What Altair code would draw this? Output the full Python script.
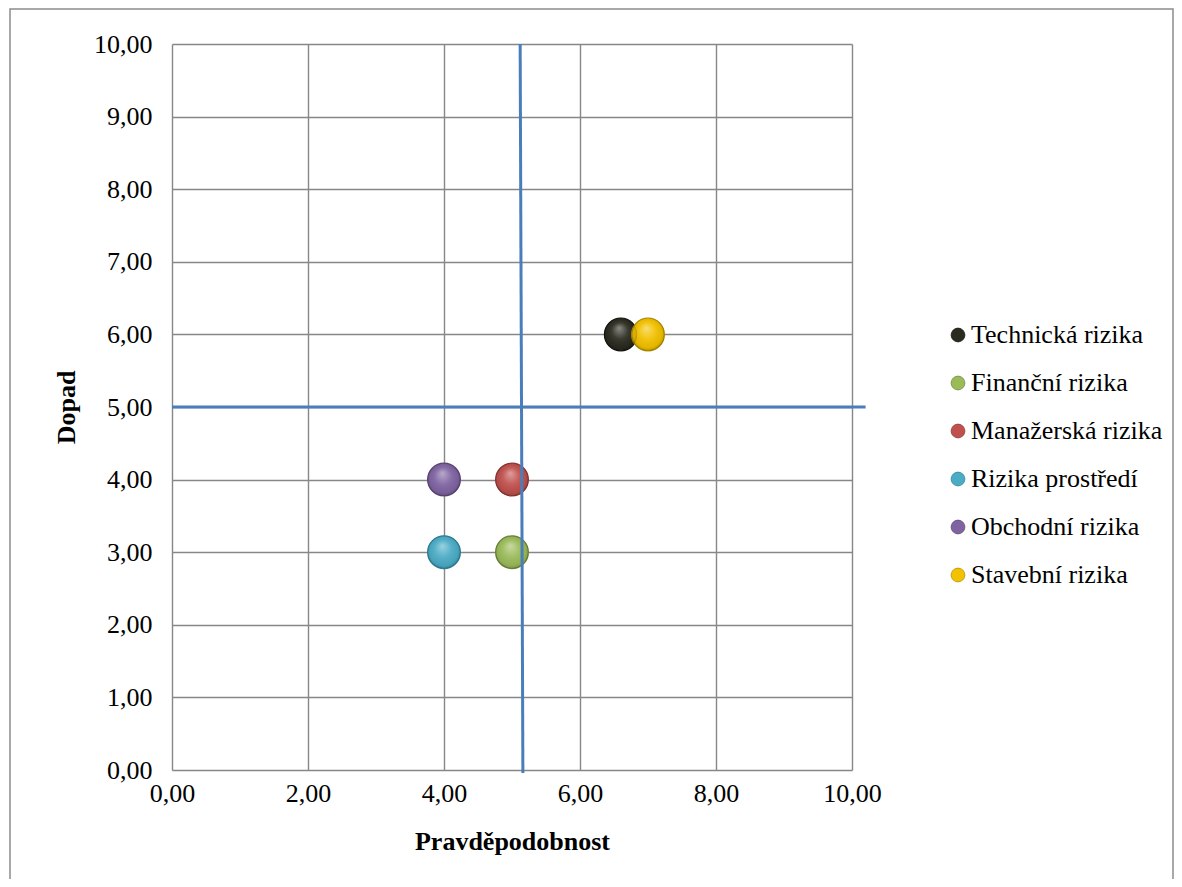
import altair as alt
import pandas as pd

# Data
series = ["Technická rizika", "Finanční rizika", "Manažerská rizika",
          "Rizika prostředí", "Obchodní rizika", "Stavební rizika"]
pravdepodobnost = [6.6, 5.0, 5.0, 4.0, 4.0, 7.0]
dopad = [6.0, 3.0, 4.0, 3.0, 4.0, 6.0]
colors = ["#2b2a20", "#9bbb59", "#c0504d", "#4bacc6", "#8064a2", "#f2c100"]
strokes = ["#15140e", "#71893f", "#8c3836", "#31849b", "#5c4776", "#b58f00"]

x_ticks = [0, 2, 4, 6, 8, 10]
y_ticks = [0, 1, 2, 3, 4, 5, 6, 7, 8, 9, 10]

# reference lines (quadrant separators)
hline_x = [0.0, 10.2]
hline_y = [5.0, 5.0]
vline_x = [5.12, 5.16]
vline_y = [10.0, -0.04]

FONT = "Liberation Serif"
label_expr = "replace(format(datum.value, '.2f'), '.', ',')"

df = pd.DataFrame({"name": series, "x": pravdepodobnost, "y": dopad, "order": list(range(6))})
hdf = pd.DataFrame({"x": hline_x, "y": hline_y, "o": [0, 1]})
vdf = pd.DataFrame({"x": vline_x, "y": vline_y, "o": [0, 1]})

xscale = alt.Scale(domain=[0, 10], nice=False, zero=False)
yscale = alt.Scale(domain=[0, 10], nice=False, zero=False)

frame = alt.Chart(pd.DataFrame({"a": [0]})).mark_rect(
    fill=None, stroke="#8c8c8c", strokeWidth=1.5
).encode(
    x=alt.value(-162), x2=alt.value(1001), y=alt.value(-35), y2=alt.value(880)
)

base = alt.Chart(df)

points = base.mark_circle(size=1075, opacity=1, strokeWidth=1.2).encode(
    x=alt.X("x:Q", scale=xscale,
            axis=alt.Axis(title="Pravděpodobnost", values=x_ticks, labelExpr=label_expr,
                          grid=True, domain=False, ticks=False, labelPadding=10,
                          labelFlush=False, labelOverlap=False,
                          titlePadding=22)),
    y=alt.Y("y:Q", scale=yscale,
            axis=alt.Axis(title="Dopad", values=y_ticks, labelExpr=label_expr,
                          grid=True, domain=False, ticks=False, labelPadding=20,
                          labelOverlap=False, titlePadding=14)),
    color=alt.Color("name:N", scale=alt.Scale(domain=series, range=colors),
                    sort=series,
                    legend=alt.Legend(title=None, orient="none", legendX=773, legendY=278,
                                      symbolSize=190, symbolType="circle",
                                      symbolStrokeWidth=0.8,
                                      labelFontSize=26, labelFont=FONT, labelColor="black",
                                      rowPadding=22, labelOffset=0, labelLimit=400)),
    stroke=alt.Stroke("name:N", scale=alt.Scale(domain=series, range=strokes), legend=None),
    order=alt.Order("order:Q"),
)

gloss = alt.RadialGradient(
    gradient="radial", x1=0.45, y1=0.3, r1=0.0, x2=0.5, y2=0.5, r2=0.55,
    stops=[
        alt.GradientStop(offset=0.0, color="rgba(255,255,255,0.45)"),
        alt.GradientStop(offset=0.45, color="rgba(255,255,255,0.08)"),
        alt.GradientStop(offset=0.8, color="rgba(0,0,0,0.05)"),
        alt.GradientStop(offset=1.0, color="rgba(0,0,0,0.3)"),
    ],
)

highlight = base.mark_circle(size=1075, opacity=1, fill=gloss, strokeWidth=0).encode(
    x=alt.X("x:Q", scale=xscale), y=alt.Y("y:Q", scale=yscale),
    detail="name:N",
    order=alt.Order("order:Q"),
)

hline = alt.Chart(hdf).mark_line(color="#4a7ebb", strokeWidth=3, clip=False).encode(
    x=alt.X("x:Q", scale=xscale), y=alt.Y("y:Q", scale=yscale), order="o:Q"
)
vline = alt.Chart(vdf).mark_line(color="#4a7ebb", strokeWidth=3, clip=False).encode(
    x=alt.X("x:Q", scale=xscale), y=alt.Y("y:Q", scale=yscale), order="o:Q"
)

chart = alt.layer(frame, points, highlight, hline, vline).properties(
    width=680, height=726,
    autosize=alt.AutoSizeParams(type="none"),
    padding={"left": 164, "top": 36, "right": 322, "bottom": 109},
).configure_view(stroke=None).configure_axis(
    gridColor="#878787", gridWidth=1.4, gridOpacity=1,
    labelFont=FONT, labelFontSize=26, labelColor="black",
    titleFont=FONT, titleFontSize=26, titleFontWeight="bold", titleColor="black",
)

chart.save("out.html", embed_options={"renderer": "svg", "actions": False})
